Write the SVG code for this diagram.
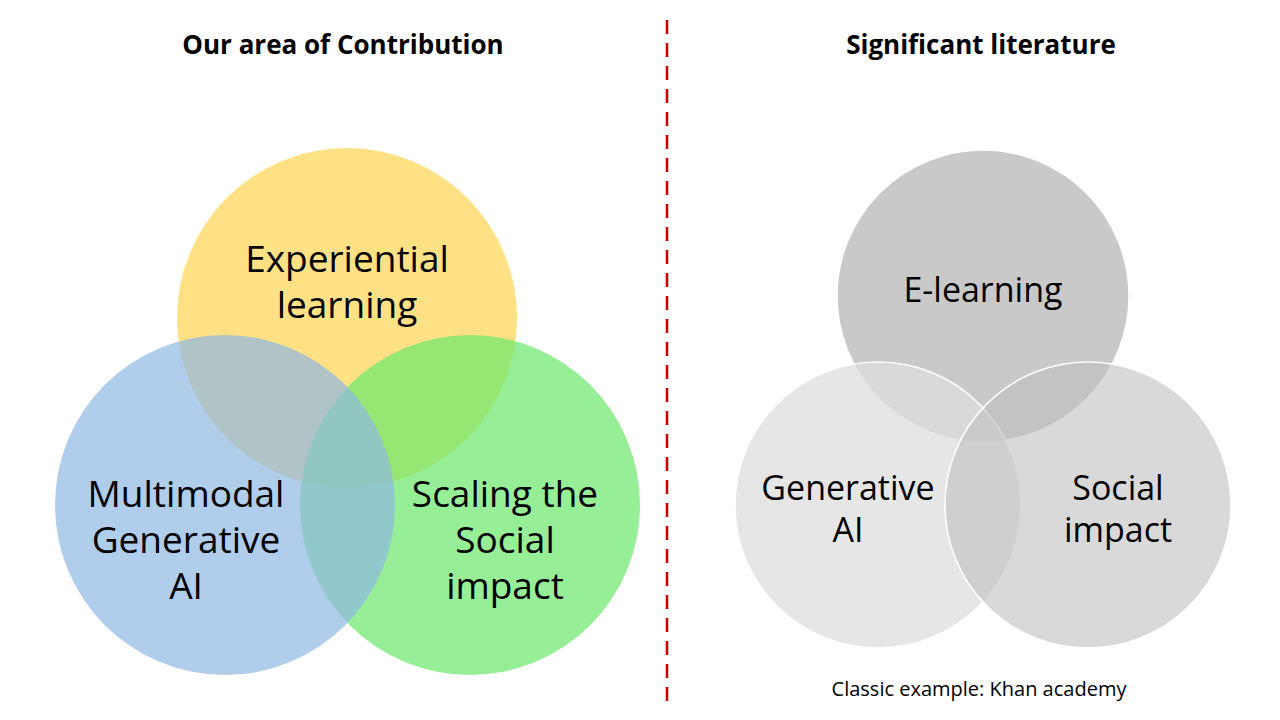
<svg xmlns="http://www.w3.org/2000/svg" width="1280" height="720" viewBox="0 0 1280 720">
<style>
text{font-family:"Open Sans","Liberation Sans",sans-serif;fill:#000;text-anchor:middle}
.t{font-size:26px;font-weight:bold}
.l{font-size:37px}
.r{font-size:34px}
.g{stroke:#fff;stroke-width:1.5}
</style>
<rect width="1280" height="720" fill="#fff"/>
<g id="connectors"><line x1="667" y1="20" x2="667" y2="705" stroke="#d00000" stroke-width="2.5" stroke-dasharray="14,9"/></g>
<text class="t" x="343" y="54">Our area of Contribution</text>
<text class="t" x="981" y="54">Significant literature</text>
<g id="experiential"><circle cx="347" cy="318" r="170" fill="#FFD966" fill-opacity="0.8"/><text class="l" x="347" y="272">Experiential</text><text class="l" x="347" y="318">learning</text></g>
<g id="scaling"><circle cx="470" cy="505" r="170" fill="#6EE86E" fill-opacity="0.72"/><text class="l" x="505" y="507">Scaling the</text><text class="l" x="505" y="553">Social</text><text class="l" x="505" y="599">impact</text></g>
<g id="multimodal"><circle cx="225" cy="505" r="170" fill="#8FB8E3" fill-opacity="0.7"/><text class="l" x="186" y="507">Multimodal</text><text class="l" x="186" y="553">Generative</text><text class="l" x="186" y="599">AI</text></g>
<g id="elearning"><circle class="g" cx="983" cy="296" r="146" fill="#C9C9C9"/><text class="r" x="983" y="302">E-learning</text></g>
<g id="genai"><circle class="g" cx="878" cy="505" r="143" fill="#DEDEDE" fill-opacity="0.75"/><text class="r" x="848" y="500">Generative</text><text class="r" x="848" y="542">AI</text></g>
<g id="social"><circle class="g" cx="1088" cy="505" r="143" fill="#BFBFBF" fill-opacity="0.6"/><text class="r" x="1118" y="500">Social</text><text class="r" x="1118" y="542">impact</text></g>
<text x="979" y="696" font-size="20">Classic example: Khan academy</text>
</svg>
